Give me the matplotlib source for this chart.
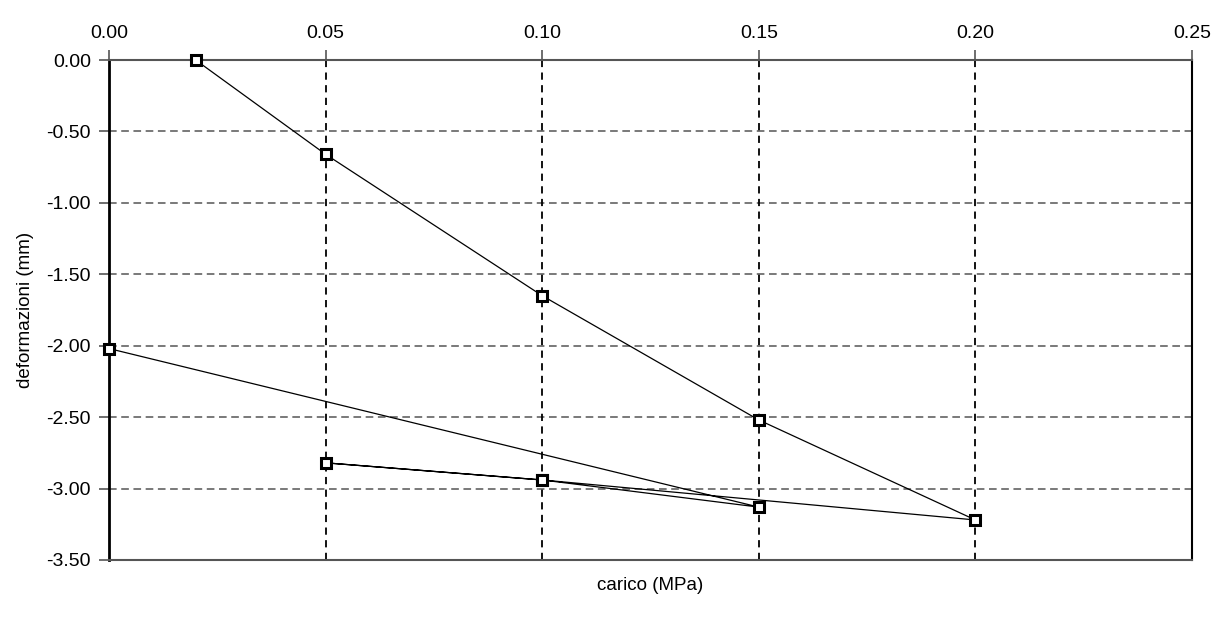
import matplotlib.pyplot as plt
import numpy as np

plt.rcParams['font.family'] = ['Liberation Sans', 'DejaVu Sans']

# carico (MPa) e deformazioni (mm), nell'ordine della prova
carico = [0.02, 0.05, 0.10, 0.15, 0.20, 0.10, 0.05, 0.10, 0.15, 0.00]
deformazioni = [0.00, -0.66, -1.65, -2.52, -3.22, -2.94, -2.82, -2.94, -3.13, -2.02]

xticks = [0.00, 0.05, 0.10, 0.15, 0.20, 0.25]
yticks = [0.00, -0.50, -1.00, -1.50, -2.00, -2.50, -3.00, -3.50]

fig = plt.figure(figsize=(12.15, 6.18), dpi=100)
ax = fig.add_axes([0.0897, 0.0939, 0.8914, 0.809])

ax.plot(carico, deformazioni, color='black', lw=0.9, marker='s', ms=7,
        mfc='white', mec='black', mew=2.2, zorder=3, clip_on=False)

ax.set_xlim(0, 0.25)
ax.set_ylim(-3.5, 0)
ax.set_xticks(xticks)
ax.set_yticks(yticks)
ax.set_xticklabels([f'{v:.2f}' for v in xticks])
ax.set_yticklabels([f'{v:.2f}' for v in yticks])

# asse x in alto
ax.xaxis.tick_top()
ax.tick_params(axis='both', labelsize=14, length=7, width=1.2, color='#555555', pad=6)

# griglia tratteggiata
for y in yticks[1:-1]:
    ax.axhline(y, color='#555555', lw=1.1, ls=(0, (5, 3)), zorder=1)
for x in xticks[1:-1]:
    ax.axvline(x, color='black', lw=1.3, ls=(0, (4, 3)), zorder=1)

ax.spines['left'].set_linewidth(2)
ax.spines['left'].set_color('black')
ax.spines['right'].set_linewidth(1.5)
ax.spines['right'].set_color('black')
ax.spines['top'].set_linewidth(1.5)
ax.spines['top'].set_color('#555555')
ax.spines['bottom'].set_linewidth(1.5)
ax.spines['bottom'].set_color('#555555')

ax.set_ylabel('deformazioni (mm)', fontsize=13.5, labelpad=9)
ax.text(0.5, -0.034, 'carico (MPa)', transform=ax.transAxes,
        ha='center', va='top', fontsize=13.5)

fig.savefig('out.png', dpi=100)
